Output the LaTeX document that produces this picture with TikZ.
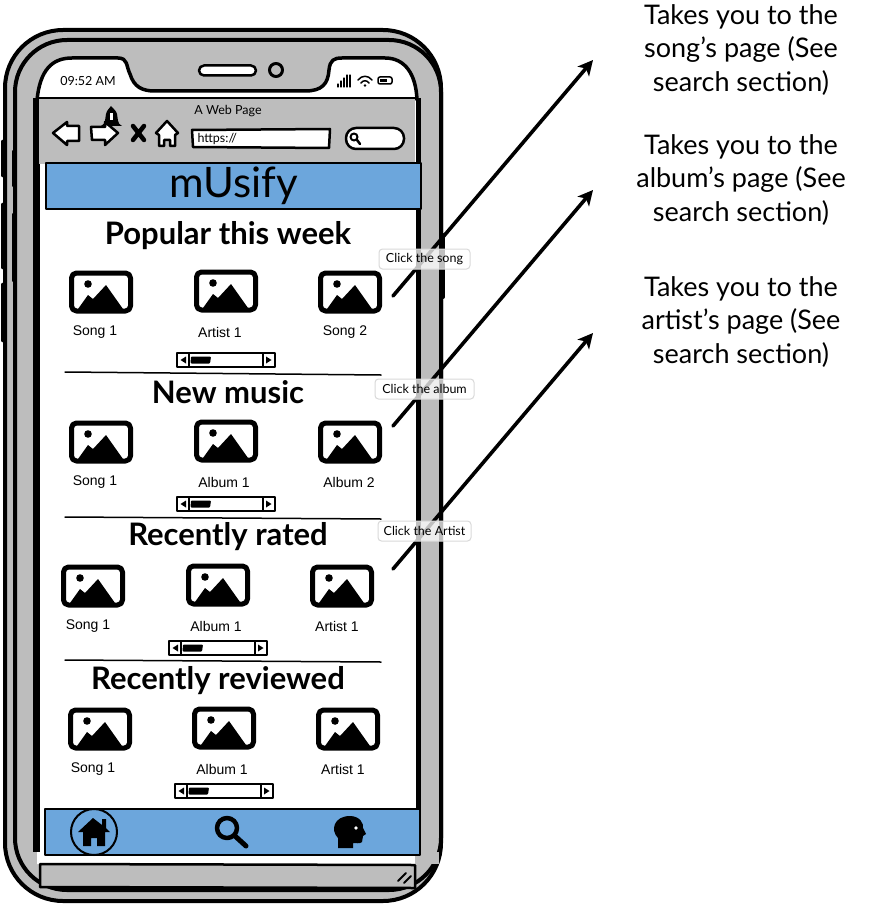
\documentclass[tikz,border=0pt]{standalone}
\usepackage{fontspec}
\setmainfont{Lato}
\newfontfamily\labelfont{Liberation Sans}
\usetikzlibrary{arrows.meta}
\definecolor{bezel}{HTML}{BDBDBD}
\definecolor{barblue}{HTML}{6CA6DC}
\tikzset{
  heading/.style={font=\bfseries\fontsize{31}{31}\selectfont},
  itemname/.style={font=\labelfont\fontsize{14}{14}\selectfont},
  sidetext/.style={font=\fontsize{27}{33.5}\selectfont, align=center},
  smalltext/.style={font=\fontsize{12.5}{12.5}\selectfont},
  clicktag/.style={draw=black!15, line width=1pt, rounded corners=3.5pt, fill=white, fill opacity=0.75, text opacity=1, minimum width=#1, minimum height=20pt, inner sep=0pt, font=\fontsize{12.5}{12.5}\selectfont},
  jump/.style={line width=3.6pt, -{Stealth[length=15pt,width=15pt,inset=4pt]}},
  navbar/.style={draw, line width=2.5pt, fill=barblue},
  pics/imgicon/.style={code={
    \draw[line width=5pt, rounded corners=5pt, fill=white] (-29.5,-19) rectangle (29.5,19);
    \fill (-13,-8) circle (3.8);
    \fill (-23,17) -- (-13,3) -- (-8,7) -- (5,-7) -- (22,17) -- cycle;
  }},
  pics/scrollthumb/.style={code={
    \draw[line width=1.8pt, fill=white] (0,0) rectangle (98,14);
    \draw[line width=1.5pt] (12,0) -- (12,14) (86,0) -- (86,14);
    \fill (9,3.5) -- (9,10.5) -- (3.5,7) -- cycle;
    \fill (89,3.5) -- (89,10.5) -- (94.5,7) -- cycle;
    \fill[rounded corners=1pt] (14,3.5) -- (34,3.5) -- (33,10.5) -- (13.5,10.5) -- cycle;
  }},
}

\begin{document}
\begin{tikzpicture}[x=1pt, y=-1pt, line join=round, line cap=round]
    \useasboundingbox (0,0) rectangle (882,904);
    % phone body
    \draw[line width=4pt, fill=bezel, rounded corners=58pt] (5,30) rectangle (441,901);
    \draw[line width=4pt, fill=bezel, rounded corners=52pt] (15,40) rectangle (441,890);
    \draw[line width=5pt] (3,142) -- (3,175) (3,205) -- (3,267) (3,285) -- (3,340);
    \draw[line width=5pt] (14,152) -- (14,185) (14,215) -- (14,280);
    \draw[line width=4pt] (443,235) -- (443,297);

    % screen with notch
    \fill[white] (37,98) .. controls (40,70) and (52,58) .. (72,58) -- (118,58) .. controls (128,58) and (126,66) .. (130,74) .. controls (134,87) and (142,91) .. (155,91) -- (305,91) .. controls (322,91) and (328,84) .. (329,70) .. controls (330,60) and (334,58) .. (342,58) -- (385,58) .. controls (405,58) and (416,74) .. (417,98) -- (417,864) -- (37,864) -- cycle;
    \draw[line width=3.5pt] (37,100) .. controls (40,70) and (52,58) .. (72,58) -- (118,58) .. controls (128,58) and (126,66) .. (130,74) .. controls (134,87) and (142,91) .. (155,91) -- (305,91) .. controls (322,91) and (328,84) .. (329,70) .. controls (330,60) and (334,58) .. (342,58) -- (385,58) .. controls (405,58) and (416,74) .. (417,100);
    \draw[line width=7pt, line cap=butt] (36.5,98) -- (36.5,852);
    \draw[line width=5pt, line cap=butt] (418,98) -- (418,852);
    \draw[line width=2.5pt, fill=white, rounded corners=5pt] (199,65.5) rectangle (256,75.5);
    \draw[line width=3pt] (276,70) circle (6.5);
    \node[smalltext] (clock) at (88,81) {09:52 AM};
    \draw[line width=1.2pt] (338,87) -- (338,84) (341,87) -- (341,81) (344,87) -- (344,78) (347,87) -- (347,75) (350,87) -- (350,75);
    \draw[line width=1.5pt] (358,80) .. controls (362,75) and (368,75) .. (372,80) (361,83) .. controls (363,80) and (367,80) .. (369,83);
    \fill (365,85.5) circle (1.4);
    \draw[line width=1.5pt, rounded corners=2pt] (378,77) rectangle (392,84);
    \fill (380,79) rectangle (387,82);

    % browser bar
    \fill[bezel] (39,98) rectangle (415,164);
    \draw[line width=2.5pt] (38,98) -- (417,98);
    \node[smalltext] (pagetitle) at (228,111) {A Web Page};
    \fill (101,126) .. controls (106,124) and (105,118) .. (106,114) .. controls (107,110) and (109,109) .. (111,106) .. controls (113,109) and (116,110) .. (117,114) .. controls (118,118) and (117,124) .. (122,126) -- cycle;
    \fill[white] (110,113) rectangle (112.5,120);
    \draw[line width=2.5pt, fill=white] (53,133) -- (67,122) -- (67,126) -- (79,126) -- (79,141) -- (67,141) -- (67,145) -- cycle;
    \draw[line width=2.5pt, fill=white] (91,127) -- (105,127) -- (105,122) -- (118,133) -- (105,145) -- (105,140) -- (92,140) -- cycle;
    \draw[line width=4.5pt] (133,126) -- (144,140) (144,126) -- (133,140);
    \draw[line width=2.5pt, fill=white] (167,121) -- (178,133) -- (175,135) -- (175,146) -- (170,146) -- (170,140) -- (164,140) -- (164,146) -- (159,146) -- (159,135) -- (156,133) -- cycle;
    \draw[line width=2.5pt, fill=white] (192,130) -- (330,129) -- (329,148) -- (193,147) -- cycle;
    \node[anchor=west, smalltext] (urltext) at (194,138.5) {https://};
    \draw[line width=2.5pt, fill=white, rounded corners=10pt] (346,128) rectangle (404,149);
    \draw[line width=2pt] (354,137) circle (3.5);
    \draw[line width=2.5pt] (357,140) -- (360,144);

    % top bar
    \node[navbar, minimum width=375pt, minimum height=46pt, inner sep=0pt, font=\fontsize{42}{42}\selectfont] (appbar) at (233.5,186) {mUsify};

    % popular this week
    \node[heading] (popular) at (228,236) {Popular this week};
    \pic at (101,292) {imgicon};
    \pic at (226,291) {imgicon};
    \pic at (350,292) {imgicon};
    \node[itemname] (popA) at (95,332) {Song 1};
    \node[itemname] (popB) at (220,332) {Artist 1};
    \node[itemname] (popC) at (345,332) {Song 2};
    \pic at (177,353) {scrollthumb};
    \draw[line width=1.5pt] (65,372) -- (381,375);

    % new music
    \node[heading] (newmusic) at (228,392) {New music};
    \pic at (101,442) {imgicon};
    \pic at (226,441) {imgicon};
    \pic at (350,442) {imgicon};
    \node[itemname] (newA) at (95,482) {Song 1};
    \node[itemname] (newB) at (224,482) {Album 1};
    \node[itemname] (newC) at (349,482) {Album 2};
    \pic at (177,497) {scrollthumb};
    \draw[line width=1.5pt] (65,517) -- (381,519);

    % recently rated
    \node[heading] (rated) at (228,537) {Recently rated};
    \pic at (93,586) {imgicon};
    \pic at (218,585) {imgicon};
    \pic at (342,586) {imgicon};
    \node[itemname] (ratedA) at (88,626) {Song 1};
    \node[itemname] (ratedB) at (216,626) {Album 1};
    \node[itemname] (ratedC) at (337,626) {Artist 1};
    \pic at (169,641) {scrollthumb};
    \draw[line width=1.5pt] (65,660) -- (381,662);

    % recently reviewed
    \node[heading] (reviewed) at (218,681) {Recently reviewed};
    \pic at (100,729) {imgicon};
    \pic at (224,728) {imgicon};
    \pic at (348,729) {imgicon};
    \node[itemname] (revA) at (93,769) {Song 1};
    \node[itemname] (revB) at (222,769) {Album 1};
    \node[itemname] (revC) at (343,769) {Artist 1};
    \pic at (175,784) {scrollthumb};

    % bottom of the phone
    \fill[white] (40,852) rectangle (415,864);
    \fill[bezel] (415,852) rectangle (439,864);
    \draw[line width=2.5pt, fill=bezel] (40,864) -- (415,865) -- (415,888) -- (40,887) -- cycle;
    \draw[line width=2pt] (398,881) -- (406,873) (404,883) -- (411,876);
    \node[navbar, minimum width=375pt, minimum height=46pt, inner sep=0pt] (navbar) at (232.5,832) {};
    \draw[line width=2pt] (94,832) circle (23);
    \fill (93,818) -- (102,825) -- (102,819) -- (106,819) -- (106,828) -- (110,832) -- (105,832) -- (105,846) -- (97,846) -- (97,838) -- (91,838) -- (91,846) -- (83,846) -- (83,832) -- (78,832) -- cycle;
    \draw[line width=4.5pt] (227,828) circle (10);
    \draw[line width=5pt] (235,836) -- (246,846);
    \fill (338,848) -- (338,838) .. controls (330,830) and (334,816) .. (350,816) .. controls (360,816) and (364,824) .. (363,828) -- (366,834) -- (363,836) -- (362,842) .. controls (360,844) and (356,843) .. (353,843) -- (353,848) -- cycle;
    \fill[white] (356,828) circle (1.8);

    % arrows to the right
    \coordinate (songfrom) at (393,296);
    \coordinate (songto) at (593,60);
    \coordinate (albumfrom) at (393,426);
    \coordinate (albumto) at (593,190);
    \coordinate (artistfrom) at (393,569);
    \coordinate (artistto) at (593,333);
    \draw[jump] (songfrom) -- (songto);
    \draw[jump] (albumfrom) -- (albumto);
    \draw[jump] (artistfrom) -- (artistto);
    \node[clicktag=91pt] (clicksong) at (424.5,259) {Click the song};
    \node[clicktag=99pt] (clickalbum) at (424.5,389) {Click the album};
    \node[clicktag=93pt] (clickartist) at (424.5,531) {Click the Artist};

    % labels on the right
    \node[sidetext] (songnote) at (741,50) {Takes you to the\\song's page (See\\search section)};
    \node[sidetext] (albumnote) at (741,180) {Takes you to the\\album's page (See\\search section)};
    \node[sidetext] (artistnote) at (741,322) {Takes you to the\\artist's page (See\\search section)};
\end{tikzpicture}
\end{document}
